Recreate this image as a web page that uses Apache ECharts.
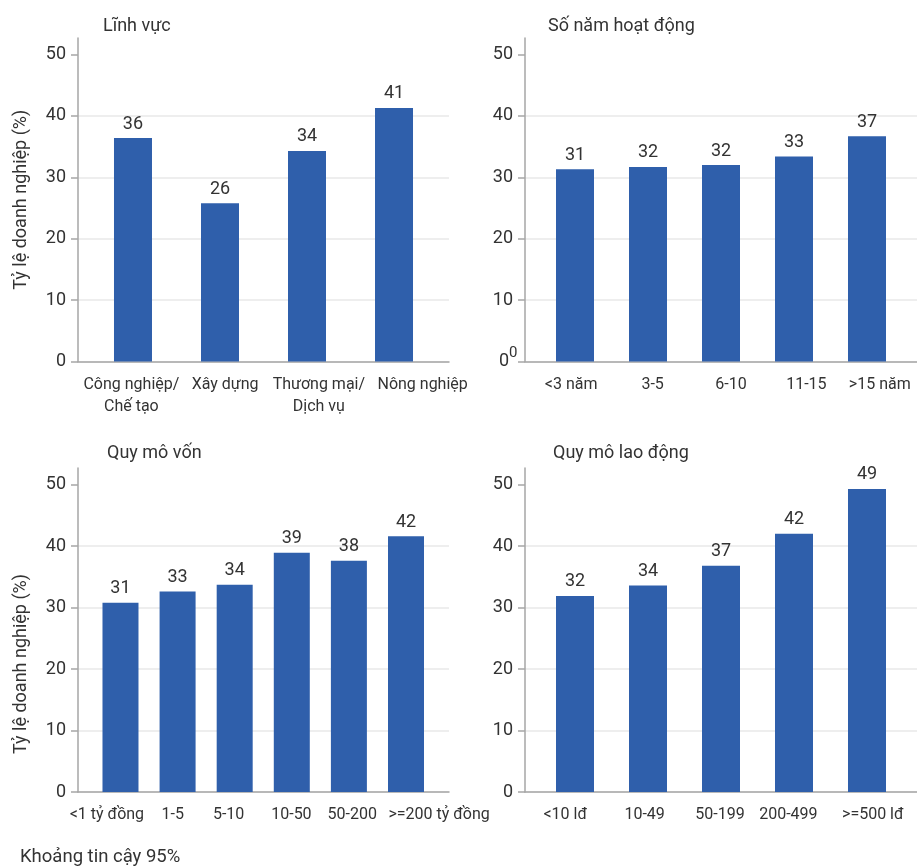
<!DOCTYPE html>
<html>
<head>
<meta charset="utf-8">
<script src="https://cdn.jsdelivr.net/npm/echarts@6/dist/echarts.min.js"></script>
<style>
html,body{margin:0;padding:0;background:#fff;}
#chart{width:917px;height:867px;}
</style>
</head>
<body>
<div id="chart"></div>
<script>
// ---- data ----
const panelTitles = ['Lĩnh vực', 'Số năm hoạt động', 'Quy mô vốn', 'Quy mô lao động'];
const yAxisName = 'Tỷ lệ doanh nghiệp (%)';
const footnote = 'Khoảng tin cậy 95%';
const yTicks = [0, 10, 20, 30, 40, 50];

const sectorCats = ['Công nghiệp/\nChế tạo', 'Xây dựng', 'Thương mại/\nDịch vụ', 'Nông nghiệp'];
const sectorVals = [36.4, 25.8, 34.3, 41.3];

const ageCats = ['<3 năm', '3-5', '6-10', '11-15', '>15 năm'];
const ageVals = [31.3, 31.7, 32.0, 33.4, 36.7];

const capitalCats = ['<1 tỷ đồng', '1-5', '5-10', '10-50', '50-200', '>=200 tỷ đồng'];
const capitalVals = [30.8, 32.6, 33.7, 38.9, 37.6, 41.6];

const laborCats = ['<10 lđ', '10-49', '50-199', '200-499', '>=500 lđ'];
const laborVals = [31.9, 33.6, 36.8, 42.0, 49.3];

// ---- layout / style ----
const FONT = 'Roboto, "Noto Sans", sans-serif';
const TXT = '#333333';
const AXIS = '#a6a6a6';
const BAR = '#2f5fab';

const panels = [
  {cats: sectorCats, vals: sectorVals, grid: {left: 78, top: 38, width: 371, height: 323.5}, xr: [-0.632, 3.632], bw: 38, name: true, title: [103, 17], shift: [7, 8, 9, 20]},
  {cats: ageCats, vals: ageVals, grid: {left: 525, top: 38, width: 400, height: 323.5}, xr: [-0.685, 4.685], bw: 38, name: false, title: [548, 17], oddZero: true, shift: [7, 10, 10, 7, 2]},
  {cats: capitalCats, vals: capitalVals, grid: {left: 78, top: 468, width: 371, height: 324}, xr: [-0.744, 5.753], bw: 36, name: true, title: [107, 444], namePad: [0, 68, 0, 0], shift: [-2, 2, -4, -3, -4, 21]},
  {cats: laborCats, vals: laborVals, grid: {left: 525, top: 468, width: 400, height: 324}, xr: [-0.685, 4.685], bw: 38, name: false, title: [553, 444], shift: [1, 2, -1, -11, -5]}
];

const option = {
  animation: false,
  backgroundColor: '#ffffff',
  textStyle: {fontFamily: FONT},
  title: [],
  grid: [],
  xAxis: [],
  yAxis: [],
  series: [],
  graphic: []
};

panels.forEach((p, i) => {
  option.grid.push(Object.assign({containLabel: false}, p.grid));
  option.title.push({
    text: panelTitles[i], left: p.title[0], top: p.title[1], padding: 0,
    textStyle: {fontFamily: FONT, fontSize: 18, fontWeight: 'normal', color: TXT}
  });
  const rich = {};
  p.shift.forEach((s, k) => {
    rich['s' + k] = {fontSize: 16, fontFamily: FONT, color: TXT, lineHeight: 22,
      padding: s >= 0 ? [0, 0, 0, 2 * s] : [0, -2 * s, 0, 0]};
  });
  // visible category axis (labels + axis line)
  option.xAxis.push({
    type: 'category', gridIndex: i, data: p.cats, boundaryGap: true,
    axisLine: {show: true, onZero: false, lineStyle: {color: AXIS, width: 1.5}},
    axisTick: {show: false},
    axisLabel: {
      interval: 0, color: TXT, fontSize: 16, fontFamily: FONT, margin: 12, lineHeight: 22,
      formatter: (v, idx) => v.split('\n').map(line => '{s' + idx + '|' + line + '}').join('\n'),
      rich: rich
    },
    splitLine: {show: false}
  });
  // hidden value axis used to position bars
  option.xAxis.push({
    type: 'value', gridIndex: i, min: p.xr[0], max: p.xr[1], show: false
  });
  option.yAxis.push({
    type: 'value', gridIndex: i, min: 0, max: 52.7, interval: 10,
    name: p.name ? yAxisName : '',
    nameLocation: 'middle', nameGap: 48, nameRotate: 90,
    nameTextStyle: {fontFamily: FONT, fontSize: 18, color: TXT, padding: p.namePad || [0, 0, 0, 0]},
    axisLine: {show: true, onZero: false, lineStyle: {color: AXIS, width: 1.5}},
    axisTick: {show: true, length: 7, lineStyle: {color: AXIS, width: 1.5}, customValues: yTicks},
    axisLabel: {
      color: TXT, fontSize: 18, fontFamily: FONT, margin: 12,
      customValues: yTicks,
      formatter: (v) => (p.oddZero && v === 0) ? '{z|0}' : String(v),
      rich: {z: {fontSize: 18, fontFamily: FONT, color: TXT, padding: [0, 4, 0, 0]}}
    },
    splitLine: {show: true, showMaxLine: false, lineStyle: {color: '#e8e8e8', width: 1.5}}
  });
  option.series.push({
    type: 'bar', xAxisIndex: i * 2 + 1, yAxisIndex: i,
    data: p.vals.map((v, k) => [k, v]),
    barWidth: p.bw,
    itemStyle: {color: BAR},
    label: {show: true, position: 'top', distance: 5, fontSize: 18, fontFamily: FONT, color: TXT,
      formatter: (d) => String(Math.round(d.value[1]))}
  });
});

option.title.push({
  text: footnote, left: 20, top: 848, padding: 0,
  textStyle: {fontFamily: FONT, fontSize: 18.5, fontWeight: 'normal', color: TXT}
});

// stray duplicated "0" tick label present in the reference (top-right panel)
option.graphic.push({
  type: 'text', left: 509, top: 346,
  style: {text: '0', fontSize: 15, fontFamily: FONT, fill: TXT}
});

const chart = echarts.init(document.getElementById('chart'), null, {renderer: 'canvas'});
chart.setOption(option);
</script>
</body>
</html>
